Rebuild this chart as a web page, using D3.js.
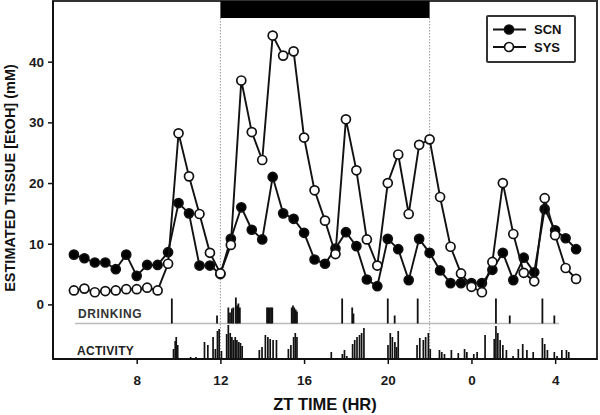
<!DOCTYPE html>
<html>
<head>
<meta charset="utf-8">
<script src="https://cdn.jsdelivr.net/npm/d3@7"></script>
<style>
  body { margin: 0; background: #fff; }
  svg { display: block; font-family: "Liberation Sans", Arial, sans-serif; }
  .tick text { font-size: 13.5px; font-weight: bold; fill: #1a1a1a; }
</style>
</head>
<body>
<div id="chart"></div>
<script>
// ZT hours (24+ = next day), 30 min samples
const zt = [5, 5.5, 6, 6.5, 7, 7.5, 8, 8.5, 9, 9.5, 10, 10.5, 11, 11.5, 12, 12.5, 13, 13.5, 14, 14.5,
  15, 15.5, 16, 16.5, 17, 17.5, 18, 18.5, 19, 19.5, 20, 20.5, 21, 21.5, 22, 22.5, 23, 23.5, 24, 24.5,
  25, 25.5, 26, 26.5, 27, 27.5, 28, 28.5, 29];
const scn = [8.2, 7.6, 6.9, 6.9, 5.8, 8.2, 4.7, 6.5, 6.5, 8.6, 16.7, 15.0, 6.4, 6.4, 5.0, 10.8, 16.0, 12.3, 10.7, 21.0,
  15.0, 14.1, 11.8, 7.4, 6.7, 9.2, 11.9, 9.6, 4.1, 3.0, 10.8, 9.1, 4.0, 10.8, 8.5, 5.6, 3.5, 3.5, 3.5, 3.5,
  5.7, 8.5, 4.0, 7.7, 5.3, 15.7, 12.2, 10.9, 9.1];
const sys = [2.3, 2.6, 2.0, 2.2, 2.3, 2.5, 2.5, 2.75, 2.3, 6.7, 28.2, 21.1, 14.9, 8.5, 5.1, 9.8, 36.9, 28.4, 23.8, 44.3,
  41.0, 41.7, 27.5, 18.8, 13.8, 8.3, 30.5, 22.1, 10.7, 6.4, 20.0, 24.7, 14.9, 26.3, 27.2, 17.7, 9.5, 5.1, 2.9, 2.0,
  7.0, 20.0, 11.6, 5.2, 3.8, 17.5, 11.4, 6.0, 4.2];

// drinking events [ZT, amount]
const drinking = [[9.68, 25], [11.84, 8], [12.38, 16], [12.46, 11], [12.55, 15], [12.62, 16], [12.74, 26],
  [12.8, 18], [12.86, 20], [12.93, 16], [14.23, 16], [14.29, 16], [14.35, 16], [14.42, 16], [14.48, 16],
  [15.41, 16], [15.47, 18], [15.53, 16], [15.6, 14], [15.66, 12], [17.82, 25], [18.3, 16], [18.36, 10],
  [20.0, 25], [20.33, 8], [21.43, 25], [25.17, 25], [25.83, 8], [27.39, 25], [27.96, 8]];

// activity counts [ZT, count]
const activity = [[9.76, 10], [9.84, 18], [9.89, 22], [9.96, 14], [10.58, 2], [10.83, 2], [11.24, 17], [11.4, 14],
  [11.65, 22], [11.76, 10], [11.86, 28], [11.94, 30], [12.05, 8], [12.3, 25], [12.38, 34], [12.47, 26],
  [12.55, 22], [12.63, 19], [12.71, 22], [12.79, 19], [12.88, 17], [12.96, 16], [13.04, 13], [13.86, 9],
  [13.99, 12], [14.15, 24], [14.27, 22], [14.38, 20], [14.52, 19], [14.68, 19], [15.25, 10], [15.37, 14],
  [15.5, 22], [15.58, 26], [15.66, 22], [17.3, 7], [17.83, 5], [17.93, 9], [18.04, 3], [18.32, 15],
  [18.42, 19], [18.53, 22], [18.65, 24], [18.75, 26], [18.86, 31], [20.01, 14], [20.12, 26], [20.22, 22],
  [20.34, 17], [20.42, 12], [20.5, 28], [21.4, 14], [21.53, 21], [21.7, 19], [21.81, 22], [21.94, 26],
  [22.03, 10], [22.47, 9], [22.58, 7], [22.71, 5], [23.04, 9], [23.37, 6], [23.67, 10], [23.78, 7],
  [24.11, 5], [24.27, 7], [24.65, 24], [25.09, 20], [25.17, 33], [25.26, 26], [25.37, 19], [25.5, 14],
  [25.67, 9], [25.99, 3], [26.24, 10], [26.45, 15], [26.65, 9], [26.95, 7], [27.39, 21], [27.5, 15],
  [27.63, 9], [27.96, 7], [28.09, 3], [28.32, 9], [28.54, 9], [28.65, 7]];

const xTicks = [8, 12, 16, 20, 24, 28];
const yTicks = [0, 10, 20, 30, 40];
const darkPhase = [12, 22];
const series = [
  { name: "SCN", values: scn, fill: "#000" },
  { name: "SYS", values: sys, fill: "#fff" }
];

const width = 600, height = 415;
const margin = { top: 1, right: 3, bottom: 56, left: 53 };
const ink = "#111";

const svg = d3.select("#chart").append("svg")
  .attr("width", width).attr("height", height);

const x = d3.scaleLinear().domain([4, 30]).range([margin.left, width - margin.right]);
const y = d3.scaleLinear().domain([-9, 50]).range([height - margin.bottom, margin.top]);
const yDrink = d3.scaleLinear().domain([0, 25]).range([323.5, 298.5]);
const yAct = d3.scaleLinear().domain([0, 35]).range([height - margin.bottom, height - margin.bottom - 35]);

// frame
svg.append("rect")
  .attr("x", margin.left).attr("y", margin.top)
  .attr("width", x.range()[1] - margin.left)
  .attr("height", y.range()[0] - margin.top)
  .attr("fill", "none").attr("stroke", "#333").attr("stroke-width", 2);

// dark phase bar + dotted lines
svg.append("rect")
  .attr("x", x(darkPhase[0])).attr("y", margin.top)
  .attr("width", x(darkPhase[1]) - x(darkPhase[0]))
  .attr("height", 17)
  .attr("fill", "#000");

svg.selectAll(".dark-line")
  .data(darkPhase)
  .join("line")
  .attr("class", "dark-line")
  .attr("x1", (d) => x(d)).attr("x2", (d) => x(d))
  .attr("y1", margin.top + 17).attr("y2", y.range()[0])
  .attr("stroke", "#999").attr("stroke-width", 1)
  .attr("stroke-dasharray", "1.5,1.5");

// axes
const yAxis = svg.append("g")
  .attr("transform", `translate(${margin.left},0)`)
  .call(d3.axisLeft(y).tickValues(yTicks).tickSize(5).tickPadding(4));
const xAxis = svg.append("g")
  .attr("transform", `translate(0,${y.range()[0]})`)
  .call(d3.axisBottom(x).tickValues(xTicks).tickSize(5).tickPadding(11)
    .tickFormat((d) => d % 24));
[yAxis, xAxis].forEach((g) => {
  g.select(".domain").remove();
  g.selectAll(".tick line").attr("stroke", ink).attr("stroke-width", 1.5);
});

svg.append("line")
  .attr("x1", margin.left).attr("x2", margin.left)
  .attr("y1", margin.top).attr("y2", y.range()[0])
  .attr("stroke", ink).attr("stroke-width", 2);
svg.append("line")
  .attr("x1", margin.left).attr("x2", x.range()[1])
  .attr("y1", y.range()[0]).attr("y2", y.range()[0])
  .attr("stroke", ink).attr("stroke-width", 2);

// axis titles
svg.append("text")
  .attr("x", (margin.left + x.range()[1]) / 2).attr("y", 410)
  .attr("text-anchor", "middle")
  .style("font-size", "16.5px").style("font-weight", "bold").attr("fill", ink)
  .text("ZT TIME (HR)");

svg.append("text")
  .attr("transform", "translate(15,178) rotate(-90)")
  .attr("text-anchor", "middle")
  .style("font-size", "14.5px").style("font-weight", "bold").attr("fill", ink)
  .text("ESTIMATED TISSUE [EtOH] (mM)");

// drinking band
svg.append("line")
  .attr("x1", 75).attr("x2", 559)
  .attr("y1", yDrink(0)).attr("y2", yDrink(0))
  .attr("stroke", "#bbb").attr("stroke-width", 1.5);

svg.append("g")
  .selectAll("line")
  .data(drinking)
  .join("line")
  .attr("x1", (d) => x(d[0])).attr("x2", (d) => x(d[0]))
  .attr("y1", yDrink(0)).attr("y2", (d) => yDrink(d[1]))
  .attr("stroke", ink).attr("stroke-width", 1.8);

svg.append("g")
  .selectAll("line")
  .data(activity)
  .join("line")
  .attr("x1", (d) => x(d[0])).attr("x2", (d) => x(d[0]))
  .attr("y1", yAct(0)).attr("y2", (d) => yAct(d[1]))
  .attr("stroke", ink).attr("stroke-width", 1.7);

svg.append("text")
  .attr("x", 78).attr("y", 318)
  .style("font-size", "12px").style("font-weight", "bold")
  .style("letter-spacing", "0.6px").attr("fill", "#333")
  .text("DRINKING");
svg.append("text")
  .attr("x", 77).attr("y", 355)
  .style("font-size", "12px").style("font-weight", "bold")
  .style("letter-spacing", "0.3px").attr("fill", "#222")
  .text("ACTIVITY");

// series lines and markers
const line = d3.line().x((d) => x(d[0])).y((d) => y(d[1]));

series.forEach((s) => {
  const pts = zt.map((t, i) => [t, s.values[i]]);
  const g = svg.append("g").attr("class", `series-${s.name}`);
  g.append("path")
    .datum(pts)
    .attr("d", line)
    .attr("fill", "none").attr("stroke", ink).attr("stroke-width", 1.9);
  g.selectAll("circle")
    .data(pts)
    .join("circle")
    .attr("cx", (d) => x(d[0])).attr("cy", (d) => y(d[1]))
    .attr("r", 4.5)
    .attr("fill", s.fill).attr("stroke", ink).attr("stroke-width", 1.7);
});

// legend
const legend = svg.append("g").attr("transform", "translate(487,16)");
legend.append("rect")
  .attr("width", 88).attr("height", 46).attr("rx", 1)
  .attr("fill", "#fff").attr("stroke", "#333").attr("stroke-width", 2);

const items = legend.selectAll(".item")
  .data(series)
  .join("g")
  .attr("class", "item")
  .attr("transform", (d, i) => `translate(0,${13.5 + i * 17.5})`);
items.append("line")
  .attr("x1", 6).attr("x2", 39)
  .attr("stroke", ink).attr("stroke-width", 1.9);
items.append("circle")
  .attr("cx", 22).attr("r", 4.5)
  .attr("fill", (d) => d.fill).attr("stroke", ink).attr("stroke-width", 1.7);
items.append("text")
  .attr("x", 47).attr("dy", "0.36em")
  .style("font-size", "13px").style("font-weight", "bold").attr("fill", ink)
  .text((d) => d.name);
</script>
</body>
</html>
